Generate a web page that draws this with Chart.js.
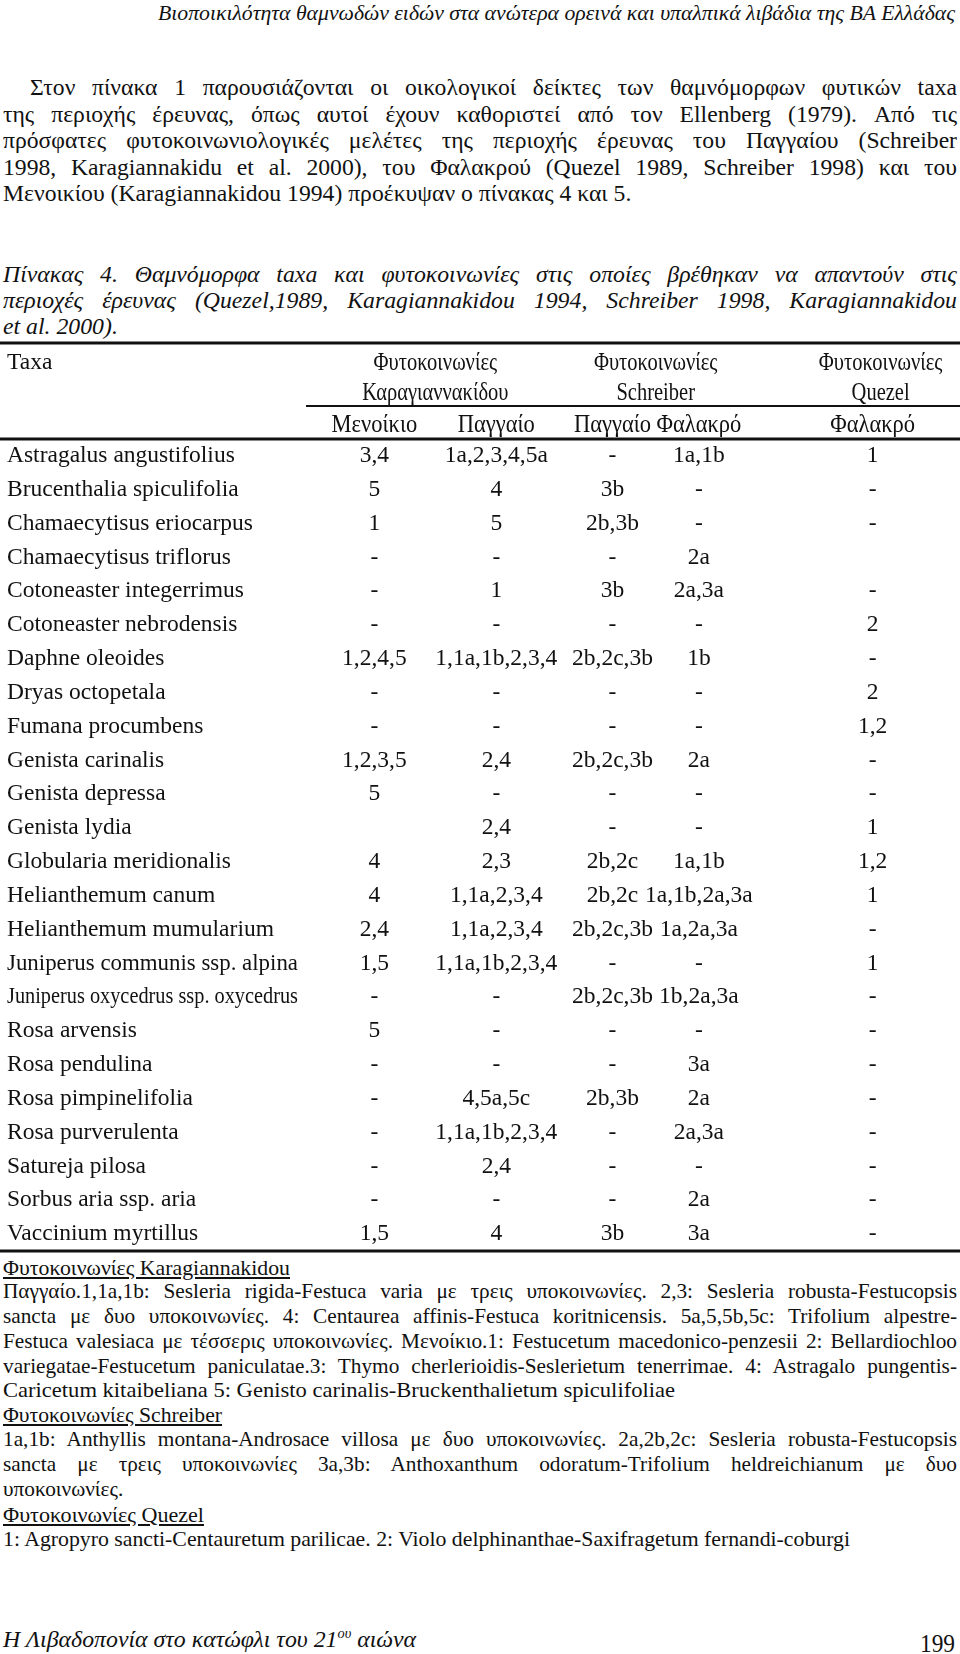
<!DOCTYPE html>
<html>
    <head>
        <title>Πίνακας 4 - Θαμνόμορφα taxa</title>
        <meta charset="UTF-8">
        <script src="https://cdn.jsdelivr.net/npm/chart.js@4.4.0/dist/chart.umd.min.js"></script>
        <style>
            html, body { margin: 0; padding: 0; background: #fff; }
            body { width: 960px; height: 1654px; position: relative; overflow: hidden;
                   font-family: "Liberation Serif", "DejaVu Serif", serif; color: #111; }
            .ln { position: absolute; white-space: nowrap; line-height: 1.2; }
            .ln span { display: inline-block; transform-origin: left center; }
            .it { font-style: italic; }
            .u span { text-decoration: underline; }
            #tableBox { position: absolute; left: 0; top: 335px; width: 960px; height: 925px; }
        </style>
    </head>
    <body>
        <div id="page"></div>
        <div id="tableBox"><canvas id="taxaChart"></canvas></div>

        <script>
            // ---- data: rows of the table ----
            const taxa = [
                'Astragalus angustifolius', 'Brucenthalia spiculifolia', 'Chamaecytisus eriocarpus',
                'Chamaecytisus triflorus', 'Cotoneaster integerrimus', 'Cotoneaster nebrodensis',
                'Daphne oleoides', 'Dryas octopetala', 'Fumana procumbens', 'Genista carinalis',
                'Genista depressa', 'Genista lydia', 'Globularia meridionalis', 'Helianthemum canum',
                'Helianthemum mumularium', 'Juniperus communis ssp. alpina',
                'Juniperus oxycedrus ssp. oxycedrus', 'Rosa arvensis', 'Rosa pendulina',
                'Rosa pimpinelifolia', 'Rosa purverulenta', 'Satureja pilosa',
                'Sorbus aria ssp. aria', 'Vaccinium myrtillus'
            ];
            // Karagiannakidou - Μενοίκιο
            const menoikio = ['3,4', '5', '1', '-', '-', '-', '1,2,4,5', '-', '-', '1,2,3,5', '5', '',
                '4', '4', '2,4', '1,5', '-', '5', '-', '-', '-', '-', '-', '1,5'];
            // Karagiannakidou - Παγγαίο
            const pangaioK = ['1a,2,3,4,5a', '4', '5', '-', '1', '-', '1,1a,1b,2,3,4', '-', '-', '2,4', '-', '2,4',
                '2,3', '1,1a,2,3,4', '1,1a,2,3,4', '1,1a,1b,2,3,4', '-', '-', '-', '4,5a,5c',
                '1,1a,1b,2,3,4', '2,4', '-', '4'];
            // Schreiber - Παγγαίο
            const pangaioS = ['-', '3b', '2b,3b', '-', '3b', '-', '2b,2c,3b', '-', '-', '2b,2c,3b', '-', '-',
                '2b,2c', '2b,2c', '2b,2c,3b', '-', '2b,2c,3b', '-', '-', '2b,3b', '-', '-', '-', '3b'];
            // Schreiber - Φαλακρό
            const falakroS = ['1a,1b', '-', '-', '2a', '2a,3a', '-', '1b', '-', '-', '2a', '-', '-',
                '1a,1b', '1a,1b,2a,3a', '1a,2a,3a', '-', '1b,2a,3a', '-', '3a', '2a', '2a,3a', '-', '2a', '3a'];
            // Quezel - Φαλακρό
            const falakroQ = ['1', '-', '-', '', '-', '2', '-', '2', '1,2', '-', '-', '1',
                '1,2', '1', '-', '1', '-', '-', '-', '-', '-', '-', '-', '-'];

            const columnHeads = ['Μενοίκιο', 'Παγγαίο', 'Παγγαίο', 'Φαλακρό', 'Φαλακρό'];
            const groupHeads = ['Καραγιαννακίδου', 'Schreiber', 'Quezel'];
            const groupCols = [[0, 1], [2, 3], [4, 4]];

            // ---- layout ----
            const colCenters = [0.390, 0.517, 0.638, 0.728, 0.909];   // fraction of page width
            const groupShift = [0, 0, 8];                                // px nudge of the group titles
            const cellFont = '23.5px "Liberation Serif"';
            const headFont = '25px "Liberation Serif"';
            const maxStretch = {p: 0.985, c: 0.99, f: 0.99};

            // ---- text around the table: [text, left, centerY, size, block, mode, class, width] ----
            // mode: j = justified line, n = natural (block stretch), s = squeezed to the given width
            const pageLines = [
                ['Βιοποικιλότητα θαμνωδών ειδών στα ανώτερα ορεινά και υπαλπικά λιβάδια της ΒΑ Ελλάδας', 158, 14, 21, 'hd', 's', 'it', 797],
                ['Στον πίνακα 1 παρουσιάζονται οι οικολογικοί δείκτες των θαμνόμορφων φυτικών taxa', 30, 88, 24, 'p', 'j', '', 927],
                ['της περιοχής έρευνας, όπως αυτοί έχουν καθοριστεί από τον Ellenberg (1979). Από τις', 3, 114.5, 24, 'p', 'j', '', 954],
                ['πρόσφατες φυτοκοινωνιολογικές μελέτες της περιοχής έρευνας του Παγγαίου (Schreiber', 3, 141, 24, 'p', 'j', '', 954],
                ['1998, Karagiannakidu et al. 2000), του Φαλακρού (Quezel 1989, Schreiber 1998) και του', 3, 167.5, 24, 'p', 'j', '', 954],
                ['Μενοικίου (Karagiannakidou 1994) προέκυψαν ο πίνακας 4 και 5.', 3, 194, 24, 'p', 'n', '', 0],
                ['Πίνακας 4. Θαμνόμορφα taxa και φυτοκοινωνίες στις οποίες βρέθηκαν να απαντούν στις', 3, 275, 24, 'c', 'j', 'it', 954],
                ['περιοχές έρευνας (Quezel,1989, Karagiannakidou 1994, Schreiber 1998, Karagiannakidou', 3, 301, 24, 'c', 'j', 'it', 954],
                ['et al. 2000).', 3, 327, 24, 'c', 'n', 'it', 0],
                ['Φυτοκοινωνίες Karagiannakidou', 3, 1269, 21.5, 'f', 's', 'u', 287],
                ['Παγγαίο.1,1a,1b: Sesleria rigida-Festuca varia με τρεις υποκοινωνίες. 2,3: Sesleria robusta-Festucopsis', 3, 1292, 21.5, 'f', 'j', '', 954],
                ['sancta με δυο υποκοινωνίες. 4: Centaurea affinis-Festuca koritnicensis. 5a,5,5b,5c: Trifolium alpestre-', 3, 1317, 21.5, 'f', 'j', '', 954],
                ['Festuca valesiaca με τέσσερις υποκοινωνίες. Μενοίκιο.1: Festucetum macedonico-penzesii 2: Bellardiochloo', 3, 1342, 21.5, 'f', 'j', '', 954],
                ['variegatae-Festucetum paniculatae.3: Thymo cherlerioidis-Seslerietum tenerrimae. 4: Astragalo pungentis-', 3, 1367, 21.5, 'f', 'j', '', 954],
                ['Caricetum kitaibeliana 5: Genisto carinalis-Bruckenthalietum spiculifoliae', 3, 1391, 21.5, 'f', 's', '', 672],
                ['Φυτοκοινωνίες Schreiber', 3, 1416, 21.5, 'f', 's', 'u', 219],
                ['1a,1b: Anthyllis montana-Androsace villosa με δυο υποκοινωνίες. 2a,2b,2c: Sesleria robusta-Festucopsis', 3, 1440, 21.5, 'f', 'j', '', 954],
                ['sancta με τρεις υποκοινωνίες 3a,3b: Anthoxanthum odoratum-Trifolium heldreichianum με δυο', 3, 1465, 21.5, 'f', 'j', '', 954],
                ['υποκοινωνίες.', 3, 1490, 21.5, 'f', 'n', '', 0],
                ['Φυτοκοινωνίες Quezel', 3, 1516, 21.5, 'f', 's', 'u', 201],
                ['1: Agropyro sancti-Centauretum parilicae. 2: Violo delphinanthae-Saxifragetum fernandi-coburgi', 3, 1540, 21.5, 'f', 's', '', 847],
                ['Η Λιβαδοπονία στο κατώφλι του 21<sup style="font-size:60%">ου</sup> αιώνα', 3, 1640, 23, 'ft', 's', 'it', 413],
                ['199', 920, 1644, 26, 'ft', 's', '', 35]
            ];

            function buildPage() {
                var page = document.getElementById('page');
                var spans = [];
                pageLines.forEach(function (l) {
                    var div = document.createElement('div');
                    div.className = 'ln ' + l[6];
                    div.style.left = l[1] + 'px';
                    div.style.top = (l[2] - l[3] * 0.62) + 'px';
                    div.style.fontSize = l[3] + 'px';
                    var span = document.createElement('span');
                    span.innerHTML = l[0];
                    div.appendChild(span);
                    page.appendChild(div);
                    spans.push({span: span, w: span.getBoundingClientRect().width, line: l});
                });

                // glyph stretch of each block: the tightest justified line has plain spacing
                var stretch = {};
                spans.forEach(function (s) {
                    if (s.line[5] !== 'j') return;
                    var r = 0.99 * s.line[7] / s.w;
                    var b = s.line[4];
                    stretch[b] = stretch[b] === undefined ? r : Math.min(stretch[b], r);
                });
                Object.keys(stretch).forEach(function (b) {
                    if (maxStretch[b]) stretch[b] = Math.min(stretch[b], maxStretch[b]);
                });

                spans.forEach(function (s) {
                    var l = s.line;
                    var k = stretch[l[4]] || 1;
                    if (l[5] === 'j') {
                        var spaces = (s.span.textContent.match(/ /g) || []).length;
                        var left = l[7] / k - s.w;
                        s.span.style.transform = 'scaleX(' + k + ')';
                        if (spaces) s.span.style.wordSpacing = (left / spaces) + 'px';
                    } else if (l[5] === 'n') {
                        s.span.style.transform = 'scaleX(' + k + ')';
                    } else {
                        s.span.style.transform = 'scaleX(' + (l[7] / s.w) + ')';
                    }
                });
            }

            // draw text with a horizontal squeeze, and narrower still if wider than maxW
            function fillFit(ctx, text, x, y, maxW, squeeze, align) {
                var w = ctx.measureText(text).width * squeeze;
                var k = squeeze;
                if (maxW && w > maxW) k = k * maxW / w;
                ctx.save();
                ctx.translate(x, y);
                ctx.scale(k, 1);
                ctx.textAlign = align;
                ctx.fillText(text, 0, 0);
                ctx.restore();
            }

            const tablePlugin = {
                id: 'tableText',
                afterDatasetsDraw: function (chart) {
                    var ctx = chart.ctx;
                    var area = chart.chartArea;
                    var xs = chart.scales.x;
                    var ys = chart.scales.y;
                    ctx.save();
                    ctx.fillStyle = '#111';
                    ctx.strokeStyle = '#111';
                    ctx.font = cellFont;
                    ctx.textBaseline = 'middle';

                    // cells: one dataset per column, labels at the point positions
                    chart.data.datasets.forEach(function (ds, c) {
                        chart.getDatasetMeta(c).data.forEach(function (pt, r) {
                            fillFit(ctx, ds.cells[r], pt.x, pt.y, 0, 1, 'center');
                        });
                    });

                    // taxa names
                    taxa.forEach(function (name, r) {
                        fillFit(ctx, name, area.left + 7, ys.getPixelForValue(r), 291, 1, 'left');
                    });

                    // header rows
                    var subY = area.top - 14;
                    var line2Y = area.top - 46;
                    var line1Y = area.top - 76;
                    fillFit(ctx, 'Taxa', area.left + 7, line1Y, 0, 1, 'left');
                    ctx.font = headFont;
                    columnHeads.forEach(function (h, c) {
                        fillFit(ctx, h, xs.getPixelForValue(colCenters[c]), subY, 0, 0.9, 'center');
                    });
                    groupHeads.forEach(function (h, g) {
                        var a = xs.getPixelForValue(colCenters[groupCols[g][0]]);
                        var b = xs.getPixelForValue(colCenters[groupCols[g][1]]);
                        var cx = (a + b) / 2 + groupShift[g];
                        fillFit(ctx, 'Φυτοκοινωνίες', cx, line1Y, 0, 0.82, 'center');
                        fillFit(ctx, h, cx, line2Y, 0, 0.82, 'center');
                    });

                    // rules
                    function rule(x0, x1, y, lw) {
                        ctx.lineWidth = lw;
                        ctx.beginPath();
                        ctx.moveTo(x0, y);
                        ctx.lineTo(x1, y);
                        ctx.stroke();
                    }
                    rule(area.left, area.right, area.top - 96, 3);
                    rule(area.left + 306, area.right, area.top - 33, 2);
                    rule(area.left, area.right, area.top, 3);
                    rule(area.left, area.right, area.bottom, 3);
                    ctx.restore();
                }
            };

            function generateTable() {
                var columns = [menoikio, pangaioK, pangaioS, falakroS, falakroQ];
                var datasets = columns.map(function (vals, c) {
                    return {
                        label: columnHeads[c],
                        cells: vals,
                        data: vals.map(function (v, r) { return {x: colCenters[c], y: r}; }),
                        pointRadius: 0,
                        showLine: false
                    };
                });

                new Chart(document.getElementById('taxaChart'), {
                    type: 'scatter',
                    data: {datasets: datasets},
                    options: {
                        responsive: true,
                        maintainAspectRatio: false,
                        animation: false,
                        layout: {padding: {top: 104, bottom: 9, left: 0, right: 0}},
                        scales: {
                            x: {type: 'linear', min: 0, max: 1, display: false},
                            y: {type: 'linear', reverse: true, min: -0.5, max: taxa.length - 0.5, display: false}
                        },
                        plugins: {legend: {display: false}, tooltip: {enabled: false}}
                    },
                    plugins: [tablePlugin]
                });
            }

            buildPage();
            generateTable();
        </script>
    </body>
</html>
